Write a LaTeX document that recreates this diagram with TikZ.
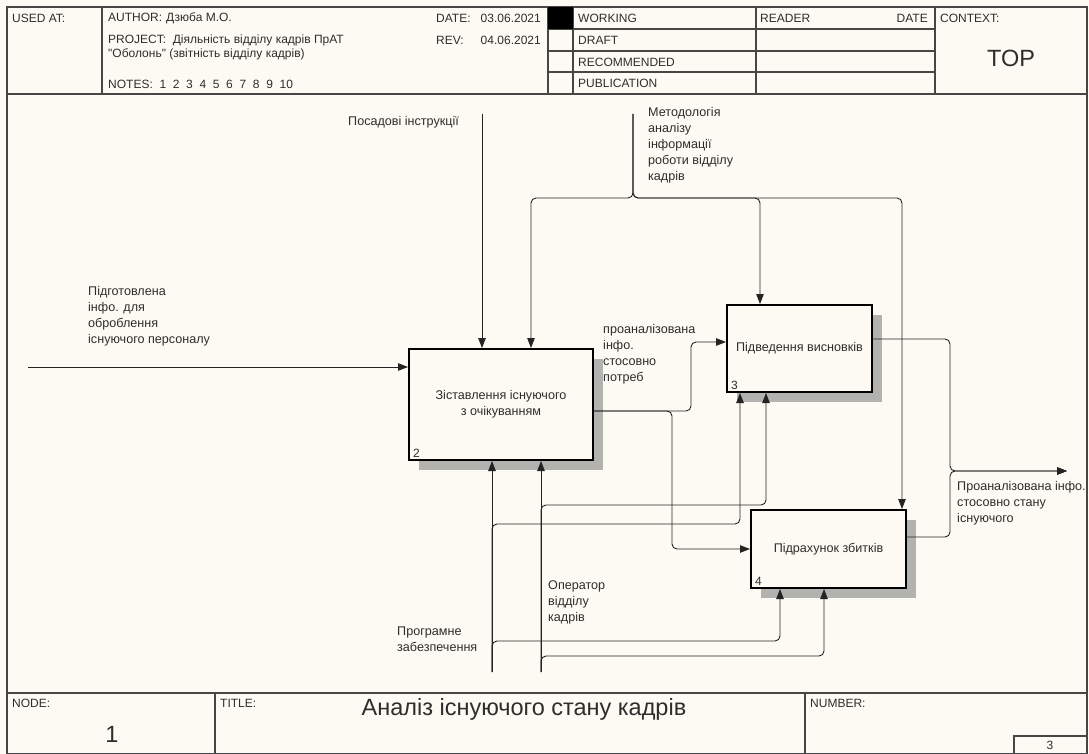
\documentclass[tikz,border=0pt]{standalone}
\usepackage{fontspec}
\setmainfont{Liberation Sans}
\usetikzlibrary{arrows.meta,calc,shadows}
\definecolor{bg}{RGB}{252,250,242}
\definecolor{frm}{RGB}{70,70,70}
\definecolor{wire}{RGB}{35,35,35}
\definecolor{shad}{RGB}{178,178,174}
\definecolor{txt}{RGB}{45,45,45}
\begin{document}
\begin{tikzpicture}[x=1pt,y=-1pt,
  lbl/.style={font=\fontsize{12.6}{16}\selectfont, text=txt, inner sep=0pt, align=left, anchor=north west},
  hdr/.style={font=\fontsize{12}{13}\selectfont, text=txt, inner sep=0pt, anchor=west},
  big/.style={font=\fontsize{23.5}{25}\selectfont, text=txt, inner sep=0pt},
  frame/.style={draw=frm, line width=1.4pt},
  conn/.style={draw=wire, line width=0.9pt, rounded corners=5pt},
  arr/.style={conn, -{Triangle[length=10pt,width=7.5pt]}},
  actbox/.style={draw=black, line width=2pt, fill=bg, anchor=north west, align=center,
     font=\fontsize{12.6}{16}\selectfont, text=txt,
     drop shadow={shadow xshift=10pt, shadow yshift=-10pt, fill=shad, opacity=1}},
  num/.style={font=\fontsize{12}{13}\selectfont, text=txt, inner sep=0pt, anchor=south west}
]
\useasboundingbox (0,0) rectangle (1089,754);
\fill[bg] (0,0) rectangle (1089,754);

% ---------- frame and header ----------
\draw[frame] (7,7) rectangle (1087,754);
\draw[frame] (7,94) -- (1087,94);
\draw[frame] (102,7) -- (102,94);
\draw[frame] (548,7) -- (548,94);
\draw[frame] (573,7) -- (573,94);
\draw[frame] (756,7) -- (756,94);
\draw[frame] (935,7) -- (935,94);
\draw[frame] (548,29) -- (935,29);
\draw[frame] (548,51) -- (935,51);
\draw[frame] (548,72) -- (935,72);
\fill[black] (548,7) rectangle (573,29);

\node[hdr] (usedat) at (12,18) {USED AT:};
\node[hdr] (author) at (108,18) {AUTHOR:\hspace{4pt}Дзюба М.О.};
\node[hdr] (project) at (108,40) {PROJECT:\ \ Діяльність відділу кадрів ПрАТ};
\node[hdr] (project2) at (108,54) {\textquotedbl Оболонь\textquotedbl\ (звітність відділу кадрів)};
\node[hdr] (notes) at (108,84) {NOTES:\ \ 1\ \ 2\ \ 3\ \ 4\ \ 5\ \ 6\ \ 7\ \ 8\ \ 9\ \ 10};
\node[hdr] (datel) at (436,18) {DATE:};
\node[hdr, anchor=east] (datev) at (541,18) {03.06.2021};
\node[hdr] (revl) at (436,40) {REV:};
\node[hdr, anchor=east] (revv) at (541,40) {04.06.2021};
\node[hdr] (working) at (578,18) {WORKING};
\node[hdr] (draft) at (578,40) {DRAFT};
\node[hdr] (recom) at (578,62) {RECOMMENDED};
\node[hdr] (public) at (578,83) {PUBLICATION};
\node[hdr] (reader) at (760,18) {READER};
\node[hdr, anchor=east] (rdate) at (928,18) {DATE};
\node[hdr] (context) at (940,18) {CONTEXT:};
\node[big] (top) at (1011,58) {TOP};

% ---------- footer ----------
\draw[frame] (7,693) -- (1087,693);
\draw[frame] (215,693) -- (215,754);
\draw[frame] (805,693) -- (805,754);
\draw[frame] (1014,754) |- (1087,736);
\node[hdr] (nodel) at (12,703) {NODE:};
\node[big] (nodev) at (112,734) {1};
\node[hdr] (titlel) at (220,703) {TITLE:};
\node[big] (title) at (524,709) {Аналіз існуючого стану кадрів};
\node[hdr] (numberl) at (810,703) {NUMBER:};
\node[hdr, anchor=center] (numv) at (1050,745) {3};

% ---------- activity boxes ----------
\node[actbox, minimum width=184pt, minimum height=111pt] (b2) at (408,348) {Зіставлення існуючого\\з очікуванням};
\node[actbox, minimum width=145pt, minimum height=87pt] (b3) at (726,304) {Підведення висновків};
\node[actbox, minimum width=155pt, minimum height=78pt] (b4) at (750,509) {Підрахунок збитків};
\node[num] (n2) at ($(b2.south west)+(5,-3)$) {2};
\node[num] (n3) at ($(b3.south west)+(5,-3)$) {3};
\node[num] (n4) at ($(b4.south west)+(5,-3)$) {4};

% ---------- free ends ----------
\coordinate (i1) at (28,367);
\coordinate (c1) at (482,114);
\coordinate (m0) at (633,114);
\coordinate (mj) at (633,198);
\coordinate (p0) at (492,672);
\coordinate (o0) at (541,672);
\coordinate (oj) at (950,471);
\coordinate (oend) at (1067,471);

% input
\draw[arr] (i1) -- (i1 -| b2.west);
\node[lbl] (li1) at (88,286) {Підготовлена\\інфо. для\\оброблення\\існуючого персоналу};

% controls
\draw[arr] (c1) -- (c1 |- b2.north);
\node[lbl] (lc1) at (348,116) {Посадові інструкції};
\draw[arr] (m0) -- (mj) -| (531,0 |- b2.north);
\draw[arr] (m0) -- (mj) -| (760,0 |- b3.north);
\draw[arr] (m0) -- (mj) -| (902,0 |- b4.north);
\node[lbl] (lm) at (648,107) {Методологія\\аналізу\\інформації\\роботи відділу\\кадрів};

% box 2 output
\draw[arr] (b2.east |- 0,411) -- (691,411) |- (b3.west |- 0,342);
\draw[arr] (b2.east |- 0,411) -- (672,411) |- (b4.west |- 0,549);
\node[lbl] (lo2) at (603,324) {проаналізована\\інфо.\\стосовно\\потреб};

% final output
\draw[arr] (b3.east |- 0,339) -| (oj) -- (oend);
\draw[arr] (b4.east |- 0,537) -| (oj) -- (oend);
\node[lbl] (lout) at (957,481) {Проаналізована інфо.\\стосовно стану\\існуючого};

% mechanisms
\draw[arr] (p0) -- (492,0 |- b2.south);
\draw[arr] (p0) -- (492,524) -| (740,0 |- b3.south);
\draw[arr] (p0) -- (492,641) -| (780,0 |- b4.south);
\draw[arr] (o0) -- (541,0 |- b2.south);
\draw[arr] (o0) -- (541,505) -| (766,0 |- b3.south);
\draw[arr] (o0) -- (541,656) -| (824,0 |- b4.south);
\node[lbl] (lp) at (397,627) {Програмне\\забезпечення};
\node[lbl] (lo) at (548,580) {Оператор\\відділу\\кадрів};
\end{tikzpicture}
\end{document}
